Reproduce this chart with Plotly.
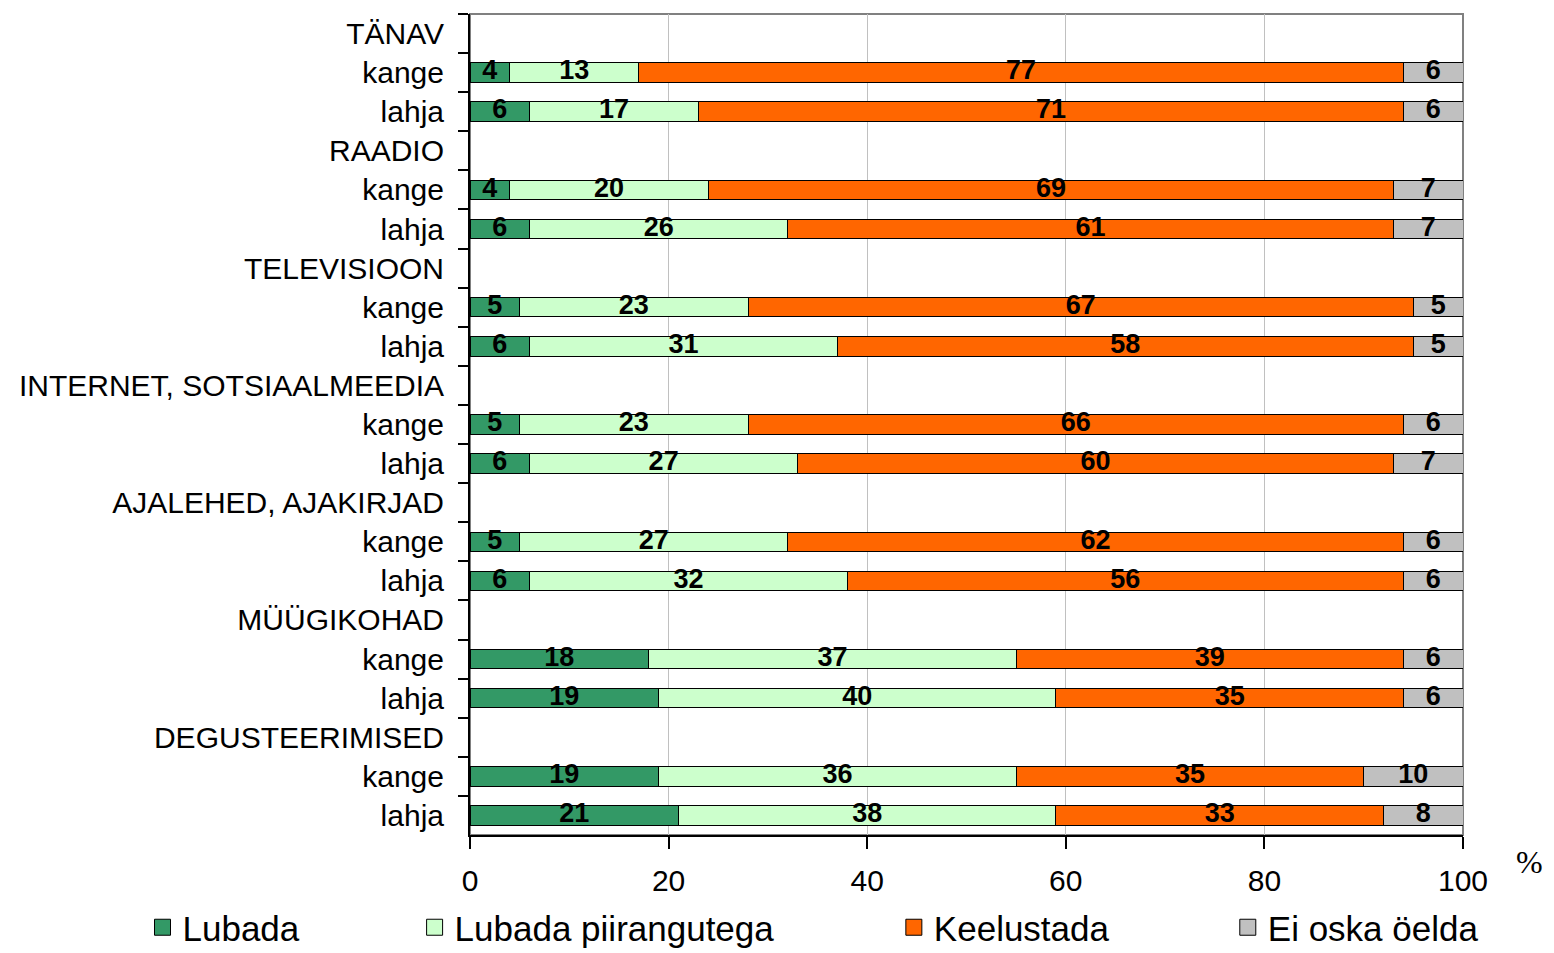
import plotly.graph_objects as go

# grupid ja alamread
groups = ["TÄNAV", "RAADIO", "TELEVISIOON", "INTERNET, SOTSIAALMEEDIA",
          "AJALEHED, AJAKIRJAD", "MÜÜGIKOHAD", "DEGUSTEERIMISED"]
subrows = ["kange", "lahja"]

# väärtused (%) – iga grupi kohta [kange, lahja]
lubada = [[4, 6], [4, 6], [5, 6], [5, 6], [5, 6], [18, 19], [19, 21]]
piirangutega = [[13, 17], [20, 26], [23, 31], [23, 27], [27, 32], [37, 40], [36, 38]]
keelustada = [[77, 71], [69, 61], [67, 58], [66, 60], [62, 56], [39, 35], [35, 33]]
ei_oska = [[6, 6], [7, 7], [5, 5], [6, 7], [6, 6], [6, 6], [10, 8]]

series_names = ["Lubada", "Lubada piirangutega", "Keelustada", "Ei oska öelda"]
series_data = [lubada, piirangutega, keelustada, ei_oska]
COLORS = ["#339966", "#CCFFCC", "#FF6600", "#C0C0C0"]

FONT = "Arial, Liberation Sans, sans-serif"

# kategooriad: päise read tühjad, alamread unikaalseks nähtamatu märgiga
categories = []
for i, g in enumerate(groups):
    categories.append(g)
    for s in subrows:
        categories.append(s + "\u200b" * (i + 1))


def expand(values):
    out = []
    for pair in values:
        out.append(None)
        out.extend(pair)
    return out


fig = go.Figure()

base = [0] * len(categories)
for name, vals, color in zip(series_names, series_data, COLORS):
    x = expand(vals)
    fig.add_trace(go.Bar(
        y=categories,
        x=x,
        orientation="h",
        name=name,
        marker=dict(color=color, line=dict(color="black", width=1)),
        width=0.5,
        showlegend=False,
        hoverinfo="x+name",
    ))
    # sildid lõigu keskele
    mids = [None if v is None else b + v / 2 for v, b in zip(x, base)]
    fig.add_trace(go.Scatter(
        y=categories, x=mids, mode="text",
        text=[("" if v is None else str(v)) for v in x],
        textposition="middle center",
        textfont=dict(family=FONT, size=27, color="black", weight="bold"),
        showlegend=False, hoverinfo="skip", cliponaxis=False,
    ))
    base = [b + (0 if v is None else v) for v, b in zip(x, base)]

# legendid (eraldi, et paigutus vastaks originaalile)
legend_x = [0.087, 0.263, 0.573, 0.789]
for k, (name, color) in enumerate(zip(series_names, COLORS)):
    lg = "legend" if k == 0 else f"legend{k + 1}"
    fig.add_trace(go.Scatter(
        x=[None], y=[None], mode="markers", name=name,
        marker=dict(symbol="square", size=16, color=color,
                    line=dict(color="black", width=1)),
        legend=lg, showlegend=True,
    ))
    fig.update_layout({lg: dict(
        x=legend_x[k], xref="container", xanchor="left",
        y=0.027, yref="container", yanchor="middle",
        orientation="h", bgcolor="rgba(0,0,0,0)",
        font=dict(family=FONT, size=35, color="black"),
    )})

fig.update_layout(
    width=1546, height=945,
    margin=dict(l=462, r=91, t=6, b=118, autoexpand=False),
    barmode="stack",
    bargap=0.5,
    plot_bgcolor="white",
    paper_bgcolor="white",
    font=dict(family=FONT, color="black"),
    xaxis=dict(
        range=[0, 100], dtick=20, tick0=0,
        showgrid=True, gridcolor="#C0C0C0", gridwidth=1,
        showline=True, linecolor="black", linewidth=2,
        ticks="outside", ticklen=12, tickwidth=2, tickcolor="black",
        ticklabelstandoff=6,
        tickfont=dict(family=FONT, size=30, color="black"),
        zeroline=False,
    ),
    yaxis=dict(
        type="category",
        categoryorder="array", categoryarray=categories,
        range=[len(categories) - 0.5, -0.5],
        tickson="boundaries",
        ticks="outside", ticklen=10, tickwidth=2, tickcolor="black",
        ticklabelstandoff=18,
        showline=True, linecolor="black", linewidth=2,
        showgrid=False,
        tickfont=dict(family=FONT, size=30, color="black"),
    ),
    shapes=[dict(type="rect", xref="paper", yref="paper",
                 x0=0, x1=1, y0=0, y1=1,
                 line=dict(color="#808080", width=2), layer="below")],
    annotations=[dict(
        text="%", xref="paper", yref="paper", x=1.067, y=-0.033,
        showarrow=False, xanchor="center", yanchor="middle",
        font=dict(family="Times New Roman, Liberation Serif, serif", size=32, color="black"),
    )],
)

fig.write_html("out.html")
